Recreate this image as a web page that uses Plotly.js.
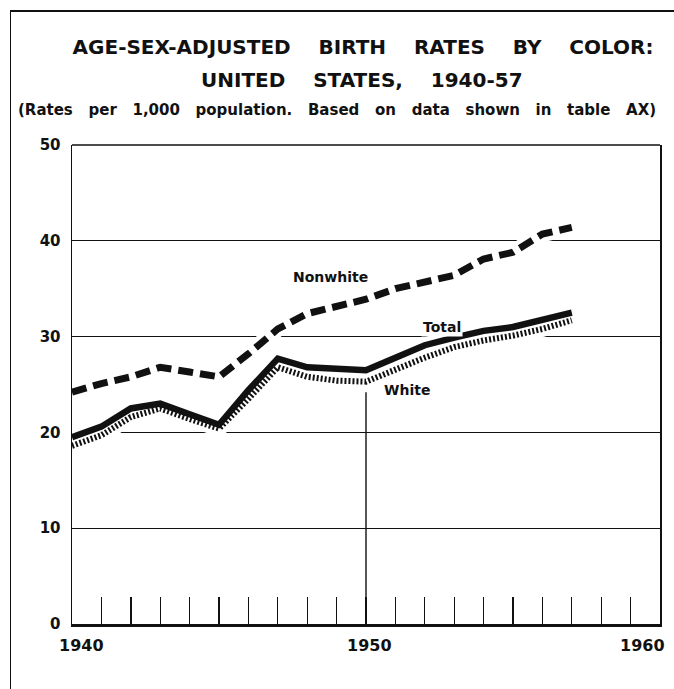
<!DOCTYPE html>
<html>
<head>
<meta charset="utf-8">
<script src="https://cdn.plot.ly/plotly-3.0.1.min.js"></script>
<style>
  html, body { margin: 0; padding: 0; background: #fff; }
  #wrap { position: relative; width: 674px; height: 689px; }
  #chart { position: absolute; left: 0; top: 0; width: 674px; height: 689px; }
  #frame { position: absolute; left: 10px; top: 10px; width: 664px; height: 679px;
           border-left: 1.5px solid #111; border-top: 2px solid #111; pointer-events: none; }
</style>
</head>
<body>
<div id="wrap">
  <div id="chart"></div>
  <div id="frame"></div>
</div>
<script>
// ---- data ----
const years = [1940, 1941, 1942, 1943, 1944, 1945, 1946, 1947, 1948, 1949,
               1950, 1951, 1952, 1953, 1954, 1955, 1956, 1957];
const nonwhite = [24.2, 25.1, 25.8, 26.8, 26.3, 25.8, 28.2, 30.8, 32.4, 33.2,
                  33.9, 35.0, 35.7, 36.4, 38.1, 38.8, 40.7, 41.4];
const total = [19.5, 20.6, 22.5, 23.0, 21.9, 20.8, 24.4, 27.7, 26.8, 26.6,
               26.5, 27.8, 29.1, 29.9, 30.6, 31.0, 31.7, 32.5];
const white = [18.6, 19.7, 21.6, 22.5, 21.4, 20.4, 23.5, 26.8, 25.8, 25.4,
               25.3, 26.6, 27.8, 28.9, 29.6, 30.1, 30.8, 31.7];

const yTicks = [0, 10, 20, 30, 40, 50];
const yTickLabels = ['0', '10', '20', '30', '40', '50'];
const yearTicks = [1941, 1942, 1943, 1944, 1945, 1946, 1947, 1948, 1949, 1950,
                   1951, 1952, 1953, 1954, 1955, 1956, 1957, 1958, 1959];
const xLabelVals = [1940, 1950, 1960];
const xLabelText = ['1940', '1950', '1960'];

const seriesNames = ['Nonwhite', 'Total', 'White'];
const seriesLabelX = [1948.8, 1952.6, 1951.4];
const seriesLabelY = [36.2, 31.0, 24.4];

const NB = '\u00A0';
const gap = NB + NB + NB + ' ';
const titleLine1 = ['AGE-SEX-ADJUSTED', 'BIRTH', 'RATES', 'BY', 'COLOR:'].join(gap);
const titleLine2 = ['UNITED', 'STATES,', '1940-57'].join(gap);
const subtitle = ['(Rates', 'per', '1,000', 'population.', 'Based', 'on', 'data',
                  'shown', 'in', 'table', 'AX)'].join(NB + NB + ' ');

const FONT = 'DejaVu Sans, Verdana, sans-serif';

function halo(y) {
  return { x: years, y: y, mode: 'lines', hoverinfo: 'skip', showlegend: false,
           line: { color: '#ffffff', width: 16 } };
}

const traces = [
  halo(nonwhite), halo(total), halo(white),
  { x: years, y: nonwhite, name: 'Nonwhite', mode: 'lines', hoverinfo: 'skip',
    line: { color: '#111', width: 7, dash: '15px,7px' } },
  { x: years, y: total, name: 'Total', mode: 'lines', hoverinfo: 'skip',
    line: { color: '#111', width: 6.5 } },
  { x: years, y: white, name: 'White', mode: 'lines', hoverinfo: 'skip',
    line: { color: '#111', width: 6, dash: '2px,2px' } }
];

const annotations = [];
annotations.push({ text: titleLine2, xref: 'paper', yref: 'paper', x: 0.493, y: 1.1357,
  xanchor: 'center', yanchor: 'middle', showarrow: false,
  font: { family: FONT, size: 20, color: '#111', weight: 'bold' } });
annotations.push({ text: subtitle, xref: 'paper', yref: 'paper', x: 0.4507, y: 1.073,
  xanchor: 'center', yanchor: 'middle', showarrow: false,
  font: { family: FONT, size: 15, color: '#111', weight: 'bold' } });

seriesNames.forEach((n, i) => {
  annotations.push({ text: n, x: seriesLabelX[i], y: seriesLabelY[i], xref: 'x', yref: 'y',
    showarrow: false, bgcolor: '#ffffff', borderpad: 1,
    font: { family: FONT, size: 14, color: '#111', weight: 'bold' } });
});

const xShift = [9, 3, -18];
xLabelVals.forEach((v, i) => {
  annotations.push({ text: xLabelText[i], x: v, xref: 'x', yref: 'paper', y: 0,
    yshift: -21, xshift: xShift[i], showarrow: false, yanchor: 'middle',
    font: { family: FONT, size: 16, color: '#111', weight: 'bold' } });
});

const layout = {
  width: 674, height: 689,
  margin: { l: 72, r: 14, t: 145, b: 65 },
  paper_bgcolor: '#ffffff', plot_bgcolor: '#ffffff',
  showlegend: false,
  hovermode: false,
  title: { text: titleLine1, x: 0.5386, xanchor: 'center', y: 0.932, yref: 'container',
           yanchor: 'middle',
           font: { family: FONT, size: 20, color: '#111', weight: 'bold' } },
  xaxis: {
    range: [1940, 1960], showgrid: false, zeroline: false,
    showline: true, linecolor: '#111', linewidth: 2.5,
    tickmode: 'array', tickvals: yearTicks, ticks: 'inside', ticklen: 27,
    tickwidth: 1.4, tickcolor: '#111', showticklabels: false, fixedrange: true
  },
  yaxis: {
    range: [0, 50], showgrid: true, gridcolor: '#111', gridwidth: 1.2,
    zeroline: false, showline: true, linecolor: '#111', linewidth: 1.5, mirror: true,
    tickmode: 'array', tickvals: yTicks, ticktext: yTickLabels, ticks: '',
    ticklabelstandoff: 7,
    tickfont: { family: FONT, size: 15, color: '#111', weight: 'bold' }, fixedrange: true
  },
  shapes: [
    { type: 'line', xref: 'paper', yref: 'paper', x0: 0, x1: 1, y0: 1, y1: 1,
      line: { color: '#111', width: 1.5 }, layer: 'above' },
    { type: 'line', xref: 'x', yref: 'y', x0: 1950, x1: 1950, y0: 0, y1: 24.2,
      line: { color: '#111', width: 1.4 }, layer: 'below' }
  ],
  annotations: annotations
};

Plotly.newPlot('chart', traces, layout, { displayModeBar: false, staticPlot: true });
</script>
</body>
</html>
